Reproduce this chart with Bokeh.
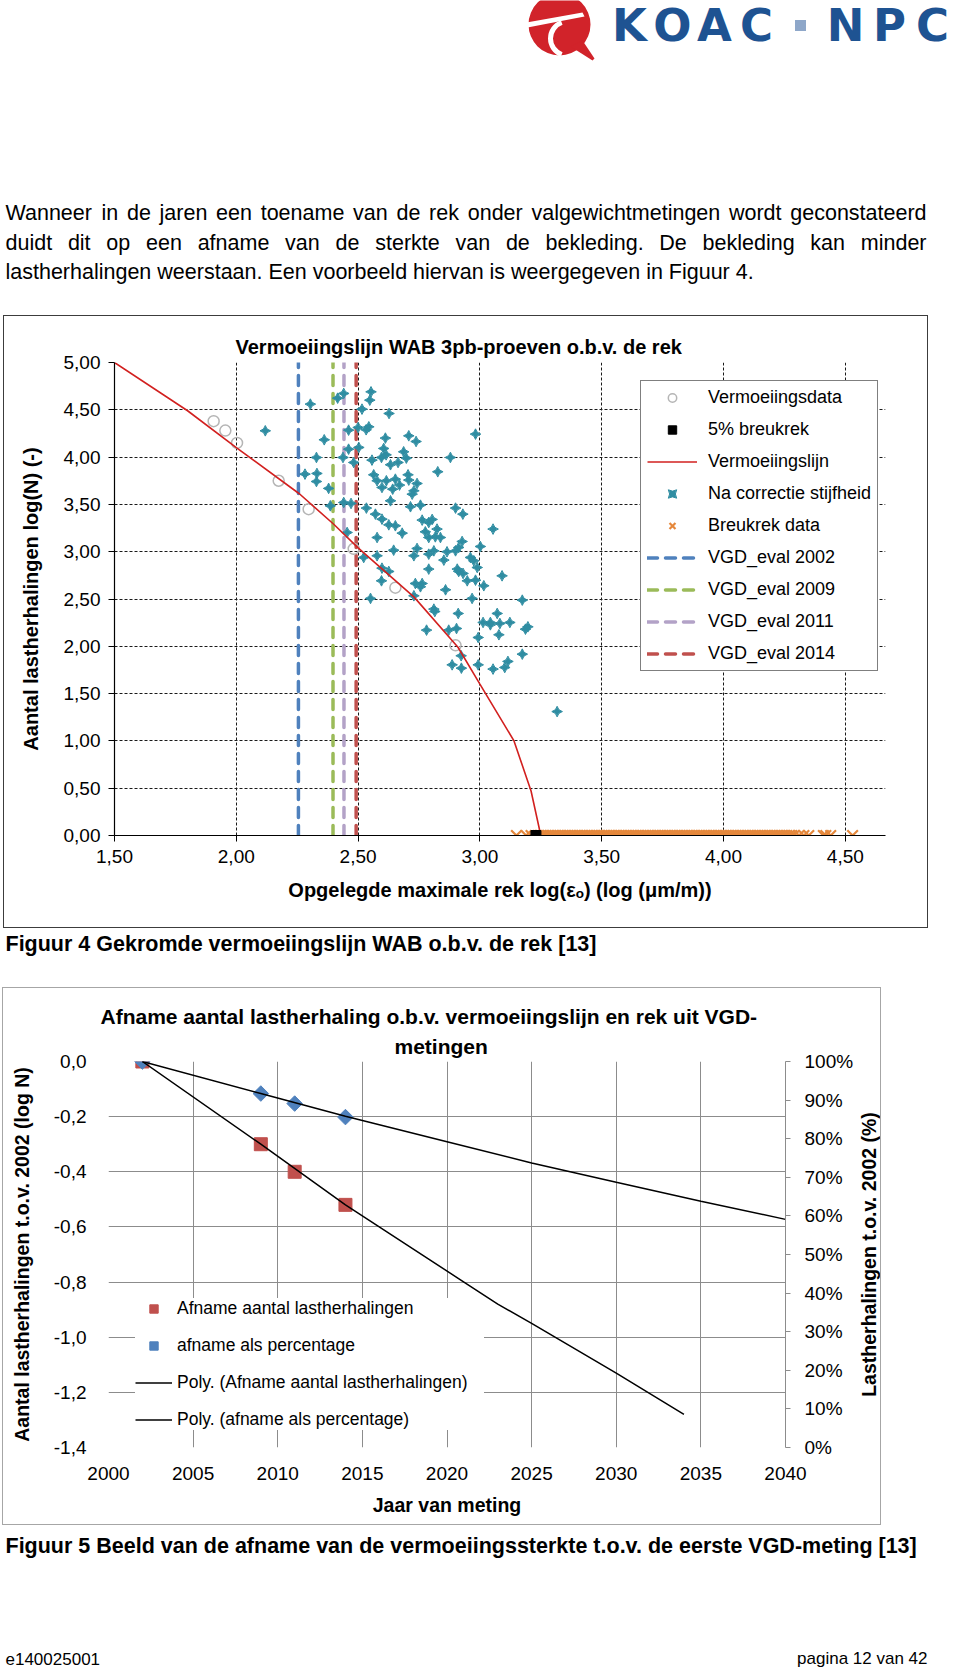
import math
from bokeh.plotting import figure
from bokeh.models import (Range1d, LinearAxis, FixedTicker, Legend, LegendItem, Title)
from bokeh.layouts import row
from bokeh.embed import file_html
from bokeh.resources import INLINE
from bokeh.core.properties import value

FONT = "Liberation Sans"

# ================= Figuur 4 data =================
fat_x = [1.907, 1.955, 2.003, 2.174, 2.297, 2.482, 2.653, 2.900]
fat_y = [4.38, 4.28, 4.15, 3.75, 3.45, 3.03, 2.62, 2.01]

curve_x = [1.50, 1.80, 2.00, 2.26, 2.40, 2.50, 2.73, 2.91, 3.00, 3.14, 3.21, 3.25]
curve_y = [5.00, 4.49, 4.10, 3.61, 3.29, 3.04, 2.52, 1.99, 1.60, 1.00, 0.47, 0.00]

corr_x = [2.304, 2.416, 2.441, 2.553, 2.548, 2.516, 2.627, 2.119, 2.461, 2.500,
          2.533, 2.544, 2.612, 2.708, 2.738, 2.982, 2.361, 2.461, 2.503, 2.605,
          2.596, 2.615, 2.687, 2.698, 2.438, 2.329, 2.557, 2.633, 2.664, 2.482,
          2.879, 2.282, 2.331, 2.329, 2.564, 2.578, 2.616, 2.653, 2.705, 2.708,
          2.827, 2.379, 2.598, 2.642, 2.670, 2.742, 2.729, 2.722, 2.633, 2.441,
          2.471, 2.386, 2.534, 2.715, 2.756, 2.900, 2.930, 2.571, 2.598, 2.626,
          2.653, 2.763, 2.790, 2.804, 3.054, 2.681, 2.776, 2.790, 2.817, 2.838,
          2.824, 2.455, 2.578, 2.927, 2.913, 2.900, 2.646, 2.729, 2.742, 2.811,
          2.790, 2.865, 2.852, 2.961, 2.975, 3.002, 2.523, 2.578, 2.598, 2.790,
          2.907, 2.989, 2.626, 2.596, 2.913, 2.931, 2.948, 2.982, 3.091, 2.735,
          2.763, 2.756, 2.859, 2.729, 3.016, 2.551, 2.968, 3.174, 2.811, 2.815,
          2.911, 3.071, 3.013, 3.043, 3.043, 3.082, 3.123, 2.781, 2.872, 2.904,
          3.078, 3.187, 3.197, 2.993, 2.923, 2.886, 2.924, 2.993, 3.054, 3.102,
          3.115, 3.174, 3.317]
corr_y = [4.560, 4.623, 4.673, 4.690, 4.602, 4.507, 4.461, 4.278, 4.285, 4.313,
          4.289, 4.320, 4.201, 4.225, 4.165, 4.243, 4.183, 4.084, 4.102, 4.091,
          3.996, 4.024, 4.056, 3.989, 3.996, 3.996, 3.968, 3.919, 3.943, 3.943,
          3.996, 3.820, 3.827, 3.742, 3.813, 3.750, 3.750, 3.767, 3.813, 3.757,
          3.845, 3.669, 3.679, 3.661, 3.704, 3.721, 3.644, 3.608, 3.538, 3.520,
          3.510, 3.485, 3.461, 3.475, 3.492, 3.461, 3.397, 3.397, 3.344, 3.284,
          3.274, 3.334, 3.309, 3.341, 3.239, 3.196, 3.210, 3.150, 3.157, 3.150,
          3.239, 3.203, 3.150, 3.108, 3.045, 3.009, 3.016, 2.957, 3.034, 3.009,
          2.974, 2.999, 2.911, 2.939, 2.904, 3.055, 2.939, 2.957, 2.826, 2.816,
          2.816, 2.833, 2.791, 2.692, 2.791, 2.770, 2.692, 2.699, 2.745, 2.664,
          2.664, 2.629, 2.597, 2.534, 2.640, 2.506, 2.506, 2.488, 2.393, 2.368,
          2.347, 2.347, 2.252, 2.252, 2.227, 2.241, 2.252, 2.171, 2.171, 2.188,
          2.122, 2.181, 2.206, 2.093, 1.900, 1.804, 1.769, 1.804, 1.759, 1.776,
          1.840, 1.917, 1.310]

break5_x = [3.23]
break5_y = [0.0]

breuk_x = [3.15, 3.19, 3.21,
           3.24, 3.25, 3.26, 3.27, 3.28, 3.29, 3.30, 3.31, 3.32, 3.33,
           3.34, 3.35, 3.36, 3.37, 3.38, 3.39, 3.40, 3.41, 3.42, 3.43,
           3.44, 3.45, 3.46, 3.47, 3.48, 3.49, 3.50, 3.51, 3.52, 3.53,
           3.54, 3.55, 3.56, 3.57, 3.58, 3.59, 3.60, 3.61, 3.62, 3.63,
           3.64, 3.65, 3.66, 3.67, 3.68, 3.69, 3.70, 3.71, 3.72, 3.73,
           3.74, 3.75, 3.76, 3.77, 3.78, 3.79, 3.80, 3.81, 3.82, 3.83,
           3.84, 3.85, 3.86, 3.87, 3.88, 3.89, 3.90, 3.91, 3.92, 3.93,
           3.94, 3.95, 3.96, 3.97, 3.98, 3.99, 4.00, 4.01, 4.02, 4.03,
           4.04, 4.05, 4.06, 4.07, 4.08, 4.09, 4.10, 4.11, 4.12, 4.13,
           4.14, 4.15, 4.16, 4.17, 4.18, 4.19, 4.20, 4.21, 4.22, 4.23,
           4.24, 4.25, 4.26, 4.27, 4.28, 4.29,
           4.31, 4.33, 4.35, 4.41, 4.42, 4.44, 4.53]
breuk_y = [0.0] * len(breuk_x)

vgd_x = [2.255, 2.397, 2.442, 2.492]
vgd_labels = ["VGD_eval 2002", "VGD_eval 2009", "VGD_eval 2011", "VGD_eval 2014"]

x1_ticks = [1.5, 2.0, 2.5, 3.0, 3.5, 4.0, 4.5]
x1_tick_labels = ["1,50", "2,00", "2,50", "3,00", "3,50", "4,00", "4,50"]
y1_ticks = [0.0, 0.5, 1.0, 1.5, 2.0, 2.5, 3.0, 3.5, 4.0, 4.5, 5.0]
y1_tick_labels = ["0,00", "0,50", "1,00", "1,50", "2,00", "2,50", "3,00", "3,50", "4,00", "4,50", "5,00"]

# ================= Figuur 5 data =================
meas_years = [2002, 2009, 2011, 2014]
afname_logN = [0.0, -0.30, -0.40, -0.52]
afname_pct = [100.0, 91.7, 89.1, 85.6]
polyN_years = [2002, 2009, 2014, 2021, 2023, 2025, 2030, 2034]
polyN_vals = [0.0, -0.30, -0.52, -0.80, -0.88, -0.95, -1.13, -1.28]
polyP_years = [2002, 2009, 2014, 2020, 2025, 2030, 2035, 2040]
polyP_vals = [100.0, 91.7, 85.8, 79.2, 73.7, 68.7, 63.8, 59.1]

x2_ticks = [2000, 2005, 2010, 2015, 2020, 2025, 2030, 2035, 2040]
x2_tick_labels = ["2000", "2005", "2010", "2015", "2020", "2025", "2030", "2035", "2040"]
y2_ticks = [-1.4, -1.2, -1.0, -0.8, -0.6, -0.4, -0.2, 0.0]
y2_tick_labels = ["-1,4", "-1,2", "-1,0", "-0,8", "-0,6", "-0,4", "-0,2", "0,0"]
pct_ticks = [0, 10, 20, 30, 40, 50, 60, 70, 80, 90, 100]
pct_tick_labels = ["0%", "10%", "20%", "30%", "40%", "50%", "60%", "70%", "80%", "90%", "100%"]

# ================= helpers =================
AW = {' ': 278, '.': 278, ',': 278, 'D': 722, 'E': 667, 'F': 611, 'W': 944,
      'a': 556, 'b': 556, 'c': 500, 'd': 556, 'e': 556, 'f': 278, 'g': 556, 'h': 556,
      'i': 222, 'j': 222, 'k': 500, 'l': 222, 'm': 833, 'n': 556, 'o': 556, 'p': 556,
      'r': 333, 's': 500, 't': 278, 'u': 556, 'v': 500, 'w': 722, 'y': 500}


def text_w(s, size):
    return sum(AW.get(c, 556) for c in s) * size / 1000.0


def page_fig(h, w=960):
    f = figure(width=w, height=h, x_range=Range1d(0, w), y_range=Range1d(h, 0),
               x_axis_type=None, y_axis_type=None, toolbar_location=None,
               output_backend="svg", min_border=0, title=None)
    f.outline_line_color = None
    f.background_fill_alpha = 0
    f.border_fill_alpha = 0
    return f


def put(f, x, y, txt, size, bold=False, align="left", color="black", font=FONT, angle=0.0):
    f.text(x=[x], y=[y], text=[txt], text_font=value(font),
           text_font_size=value(f"{size}px"),
           text_font_style="bold" if bold else "normal", angle=angle,
           text_align=align, text_baseline="middle", text_color=color)


def justified(f, line, y, x0, x1, size):
    words = line.split(" ")
    total = sum(text_w(w, size) for w in words)
    gap = (x1 - x0 - total) / (len(words) - 1)
    x = x0
    for w in words:
        put(f, x, y, w, size)
        x += text_w(w, size) + gap


# ================= header (logo + paragraph) =================
hdr = page_fig(316)
RED = "#D1232A"
hdr.circle(x=[559], y=[24], radius=31, fill_color=RED, line_color=None)
hdr.patch(x=[570, 592, 594, 582], y=[46, 60, 58, 40], fill_color=RED, line_color=None)
hdr.patch(x=[526, 582, 584, 527], y=[22, 12, 16, 27], fill_color="white", line_color=None)
hdr.arc(x=[567], y=[38], radius=17, start_angle=math.radians(110), end_angle=math.radians(250),
        line_color="white", line_width=5)
BLUE = "#1E5392"
for ch, cx in zip("KOACNPC", [629, 672, 714, 756, 845, 889, 932]):
    put(hdr, cx, 25, ch, 45, bold=True, align="center", color=BLUE, font="DejaVu Sans")
hdr.scatter(x=[800], y=[25], marker="square", size=11, fill_color="#8EA7C9", line_color=None)

P = 21.5
justified(hdr, "Wanneer in de jaren een toename van de rek onder valgewichtmetingen wordt geconstateerd",
          212, 5, 926, P)
justified(hdr, "duidt dit op een afname van de sterkte van de bekleding. De bekleding kan minder",
          242, 5, 926, P)
put(hdr, 5, 271, "lastherhalingen weerstaan. Een voorbeeld hiervan is weergegeven in Figuur 4.", P)

# ================= Figuur 4 chart =================
p1 = figure(width=923, height=611, x_range=Range1d(1.5, 4.665), y_range=Range1d(0, 5),
            output_backend="svg", toolbar_location=None,
            min_border_left=110, min_border_right=42, min_border_top=46, min_border_bottom=92)
p1.margin = (0, 0, 0, 4)
p1.styles = {"outline": "1px solid #3c3c3c"}
p1.outline_line_color = None
p1.title.text = "Vermoeiingslijn WAB 3pb-proeven o.b.v. de rek"
p1.title.align = "left"
p1.title.offset = 121
p1.title.standoff = 9
p1.title.text_font = FONT
p1.title.text_font_size = "20px"
p1.title.text_font_style = "bold"
p1.title.text_color = "black"

for ax in (p1.xaxis[0], p1.yaxis[0]):
    ax.axis_line_color = "black"
    ax.axis_line_width = 1.2
    ax.major_tick_line_color = "black"
    ax.major_tick_out = 6
    ax.major_tick_in = 0
    ax.minor_tick_line_color = None
    ax.major_label_text_font = FONT
    ax.major_label_text_font_size = "19px"
    ax.major_label_text_color = "black"
    ax.axis_label_text_font = "Liberation Sans, DejaVu Sans"
    ax.axis_label_text_font_style = "bold"
    ax.axis_label_text_font_size = "20px"
    ax.axis_label_text_color = "black"
p1.xaxis.ticker = FixedTicker(ticks=x1_ticks)
p1.xaxis.major_label_overrides = dict(zip(x1_ticks, x1_tick_labels))
p1.yaxis.ticker = FixedTicker(ticks=y1_ticks)
p1.yaxis.major_label_overrides = dict(zip(y1_ticks, y1_tick_labels))
p1.xaxis.axis_label = "Opgelegde maximale rek log(\u03b5\u2092) (log (\u03bcm/m))"
p1.yaxis.axis_label = "Aantal lastherhalingen log(N) (-)"
p1.xaxis.major_label_standoff = 8
p1.xaxis.axis_label_standoff = 13
p1.yaxis.major_label_standoff = 8
p1.yaxis.axis_label_standoff = 19
for g in (p1.xgrid[0], p1.ygrid[0]):
    g.grid_line_color = "#1a1a1a"
    g.grid_line_dash = "3 2"
    g.grid_line_width = 1

vgd_colors = ["#4F81BD", "#9BBB59", "#B3A2C7", "#C0504D"]
vgd_r = []
for xv, col in zip(vgd_x, vgd_colors):
    r = p1.segment(x0=[xv], y0=[p1.y_range.start], x1=[xv], y1=[p1.y_range.end],
                   line_color=col, line_width=3.5, line_dash="10 8", line_cap="round")
    vgd_r.append(r)

r_corr = p1.scatter(corr_x, corr_y, marker="square_pin", angle=math.pi / 4, size=7.5,
                    fill_color="#2F8DA2", line_color="#2F8DA2")
r_fat = p1.scatter(fat_x, fat_y, marker="circle", size=11, fill_color=None,
                   line_color="#B5B5B5", line_width=1.5)
r_curve = p1.line(curve_x, curve_y, line_color="#D2201F", line_width=1.6)
r_breuk = p1.scatter(breuk_x, breuk_y, marker="x", size=15, line_color="#E5883C", line_width=2.2)
r_b5 = p1.scatter(break5_x, break5_y, marker="square", size=10, fill_color="black", line_color="black")

leg1 = Legend(items=[
    LegendItem(label="Vermoeiingsdata", renderers=[r_fat]),
    LegendItem(label="5% breukrek", renderers=[r_b5]),
    LegendItem(label="Vermoeiingslijn", renderers=[r_curve]),
    LegendItem(label="Na correctie stijfheid", renderers=[r_corr]),
    LegendItem(label="Breukrek data", renderers=[r_breuk]),
] + [LegendItem(label=lab, renderers=[r]) for lab, r in zip(vgd_labels, vgd_r)],
    location=(526, 164))
leg1.label_text_font = FONT
leg1.label_text_font_size = "18px"
leg1.label_text_color = "black"
leg1.glyph_width = 50
leg1.glyph_height = 21
leg1.label_height = 21
leg1.spacing = 11
leg1.padding = 6
leg1.label_standoff = 11
leg1.border_line_color = "black"
leg1.border_line_width = 1
leg1.background_fill_color = "white"
leg1.background_fill_alpha = 1
p1.add_layout(leg1)

# ================= caption 1 =================
mid = page_fig(61)
put(mid, 5, 16, "Figuur 4 Gekromde vermoeiingslijn WAB o.b.v. de rek [13]", 21.5, bold=True)

# ================= Figuur 5 chart =================
p2 = figure(width=853, height=536, x_range=Range1d(2000, 2040), y_range=Range1d(-1.4, 0),
            output_backend="svg", toolbar_location=None, title=None,
            min_border_left=105, min_border_right=69, min_border_top=73, min_border_bottom=77)
p2.outline_line_color = None
p2.extra_y_ranges = {"pct": Range1d(0, 100)}

t2b = Title(text="metingen", align="left", offset=286, standoff=7, text_color="black",
            text_font=FONT, text_font_size="21px", text_font_style="bold")
t2a = Title(text="Afname  aantal lastherhaling o.b.v. vermoeiingslijn en rek uit VGD-",
            align="left", offset=-8, standoff=3, text_color="black",
            text_font=FONT, text_font_size="21px", text_font_style="bold")
p2.add_layout(t2b, "above")
p2.add_layout(t2a, "above")

GRID2 = "#8c8c8c"
xa, ya = p2.xaxis[0], p2.yaxis[0]
for ax in (xa, ya):
    ax.axis_line_color = None
    ax.major_tick_line_color = None
    ax.minor_tick_line_color = None
    ax.major_label_text_font = FONT
    ax.major_label_text_font_size = "19px"
    ax.major_label_text_color = "black"
    ax.axis_label_text_font = FONT
    ax.axis_label_text_font_style = "bold"
    ax.axis_label_text_font_size = "19.5px"
    ax.axis_label_text_color = "black"
xa.ticker = FixedTicker(ticks=x2_ticks)
xa.major_label_overrides = dict(zip(x2_ticks, x2_tick_labels))
xa.axis_label = "Jaar van meting"
xa.major_label_standoff = 13
xa.axis_label_standoff = 11
ya.ticker = FixedTicker(ticks=y2_ticks)
ya.major_label_overrides = dict(zip(y2_ticks, y2_tick_labels))
ya.axis_label = "Aantal lastherhalingen t.o.v. 2002 (log N)"
ya.major_label_standoff = 16
ya.axis_label_standoff = 18

ra = LinearAxis(y_range_name="pct", ticker=FixedTicker(ticks=pct_ticks),
                major_label_overrides=dict(zip(pct_ticks, pct_tick_labels)))
ra.axis_line_color = GRID2
ra.major_tick_line_color = GRID2
ra.major_tick_out = 5
ra.major_tick_in = 0
ra.minor_tick_line_color = None
ra.major_label_standoff = 14
ra.major_label_text_font = FONT
ra.major_label_text_font_size = "19px"
ra.major_label_text_color = "black"
p2.add_layout(ra, "right")

for g in (p2.xgrid[0], p2.ygrid[0]):
    g.grid_line_color = GRID2
    g.grid_line_width = 1

r_sq = p2.scatter(meas_years, afname_logN, marker="square", size=13,
                  fill_color="#C0504D", line_color="#C0504D")
r_dm = p2.scatter(meas_years, afname_pct, y_range_name="pct", marker="square", angle=math.pi / 4,
                  size=11, fill_color="#4F81BD", line_color="#4F81BD")
r_pn = p2.line(polyN_years, polyN_vals, line_color="black", line_width=1.5)
r_pp = p2.line(polyP_years, polyP_vals, y_range_name="pct", line_color="black", line_width=1.5)

leg2 = Legend(items=[
    LegendItem(label="Afname aantal lastherhalingen", renderers=[r_sq]),
    LegendItem(label="afname als percentage", renderers=[r_dm]),
    LegendItem(label="Poly. (Afname aantal lastherhalingen)", renderers=[r_pn]),
    LegendItem(label="Poly. (afname als percentage)", renderers=[r_pp]),
], location=(27, 17))
leg2.label_text_font = FONT
leg2.label_text_font_size = "17.5px"
leg2.label_text_color = "black"
leg2.glyph_width = 37
leg2.glyph_height = 21
leg2.label_height = 21
leg2.label_width = 307
leg2.spacing = 16
leg2.padding = 8
leg2.label_standoff = 5
leg2.border_line_color = None
leg2.background_fill_color = "white"
leg2.background_fill_alpha = 1
p2.add_layout(leg2)

# right-hand axis title (reads bottom-to-top), in a narrow strip next to the chart
lab2 = figure(width=24, height=536, x_range=Range1d(0, 1), y_range=Range1d(0, 1),
              x_axis_type=None, y_axis_type=None, toolbar_location=None,
              output_backend="svg", min_border=0, title=None)
lab2.outline_line_color = None
lab2.background_fill_alpha = 0
lab2.border_fill_alpha = 0
put(lab2, 0.5, 0.5, "Lastherhalingen t.o.v. 2002 (%)", 19.5, bold=True, align="center",
    angle=math.pi / 2)

fig5 = row(p2, lab2, spacing=0)
fig5.margin = (0, 0, 0, 3)
fig5.styles = {"outline": "1px solid #a6a6a6"}

# ================= caption 2 + footer =================
ftr = page_fig(145)
put(ftr, 5, 21, "Figuur 5 Beeld van de afname van de vermoeiingssterkte t.o.v. de eerste VGD-meting [13]",
    21.5, bold=True)
put(ftr, 5, 134, "e140025001", 17)
put(ftr, 927, 134, "pagina 12 van 42", 17, align="right")

open("out.html", "w").write(file_html([hdr, p1, mid, fig5, ftr], INLINE, title="Figuur 4 en 5"))
